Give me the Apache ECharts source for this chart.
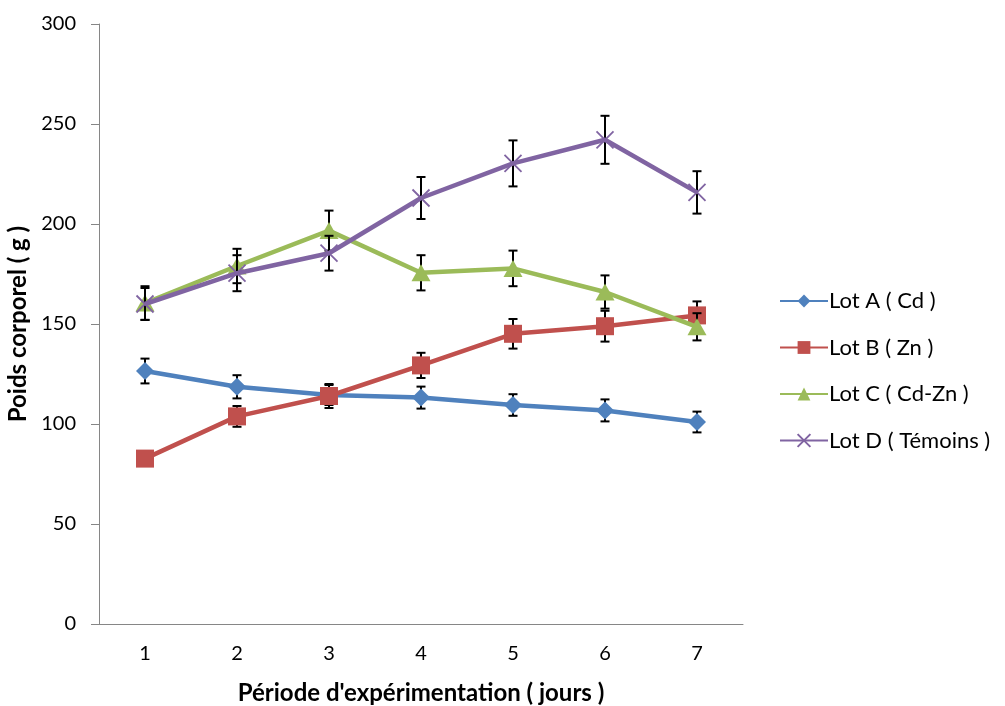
<!DOCTYPE html>
<html>
<head>
<meta charset="utf-8">
<script src="https://cdn.jsdelivr.net/npm/echarts@6/dist/echarts.min.js"></script>
<style>html,body{margin:0;padding:0;background:#fff}#c{width:1005px;height:706px}</style>
</head>
<body>
<div id="c"></div>
<script>
var categories = ['1','2','3','4','5','6','7'];
var seriesNames = ['Lot A ( Cd )','Lot B ( Zn )','Lot C ( Cd-Zn )','Lot D ( Témoins )'];
var lotA = [126.5, 118.6, 114.5, 113.2, 109.5, 106.8, 101];
var lotB = [82.7, 103.8, 114, 129.3, 145.1, 148.9, 154.3];
var lotC = [160.5, 179, 196.7, 175.6, 177.8, 166, 148.6];
var lotD = [160, 175.4, 185.4, 213, 230.3, 242.1, 215.8];
var errA = [6.2, 5.8, 5, 5.5, 5.4, 5.5, 5.2];
var errB = [3, 5.2, 6, 6.3, 7.4, 7.7, 7];
var errC = [8.4, 8.6, 10, 8.8, 8.9, 8.3, 6.8];
var errD = [8, 9, 8.7, 10.5, 11.5, 12, 10.6];
var yTicks = {min: 0, max: 300, interval: 50};

var colors = ['#4F81BD', '#C0504D', '#9BBB59', '#8064A2'];
var values = [lotA, lotB, lotC, lotD];
var errs = [errA, errB, errC, errD];
var symbols = ['diamond', 'rect', 'triangle', 'path://M0,0L10,10M10,0L0,10'];
var sizes = [[18,18], [18,18], [19,17], [17,17]];
var FONT = 'Lato, "Open Sans", sans-serif';

var series = [];
values.forEach(function (vals, i) {
  var s = {
    name: seriesNames[i], type: 'line', data: vals,
    symbol: symbols[i], symbolSize: sizes[i], showAllSymbol: true,
    lineStyle: {color: colors[i], width: 4.5},
    itemStyle: {color: colors[i], borderWidth: 0},
    z: 3 + 2 * i
  };
  if (i === 3) {
    s.itemStyle = {color: colors[i], borderColor: colors[i], borderWidth: 1.8};
  }
  series.push(s);
});
values.forEach(function (vals, i) {
  var data = vals.map(function (v, k) { return [k, v - errs[i][k], v + errs[i][k]]; });
  series.push({
    type: 'custom', name: seriesNames[i] + ' err', z: 2 + 2 * i,
    silent: true,
    renderItem: function (params, api) {
      var x = api.value(0);
      var lo = api.coord([x, api.value(1)]);
      var hi = api.coord([x, api.value(2)]);
      var w = 4.5;
      var st = {stroke: '#000', lineWidth: 2};
      return {type: 'group', children: [
        {type: 'line', shape: {x1: lo[0], y1: lo[1], x2: hi[0], y2: hi[1]}, style: st},
        {type: 'line', shape: {x1: lo[0]-w, y1: lo[1], x2: lo[0]+w, y2: lo[1]}, style: st},
        {type: 'line', shape: {x1: hi[0]-w, y1: hi[1], x2: hi[0]+w, y2: hi[1]}, style: st}
      ]};
    },
    encode: {x: 0, y: [1, 2]},
    data: data
  });
});

var chart = echarts.init(document.getElementById('c'), null, {renderer: 'canvas'});
chart.setOption({
  animation: false,
  backgroundColor: '#fff',
  grid: {left: 99, right: 262, top: 24, bottom: 82, containLabel: false, outerBoundsMode: 'none'},
  legend: {
    orient: 'vertical', left: 774, top: 285,
    data: seriesNames, itemWidth: 48, itemHeight: 16, itemGap: 24.5,
    textStyle: {fontFamily: FONT, fontSize: 22, color: '#000', padding: [0,0,0,-4]}
  },
  xAxis: {
    type: 'category', data: categories, boundaryGap: true,
    name: "Période d'expérimentation ( jours )", nameLocation: 'middle', nameGap: 57,
    nameTextStyle: {fontFamily: FONT, fontSize: 24, fontWeight: 'bold', color: '#000'},
    axisLine: {lineStyle: {color: '#868686', width: 1}},
    axisTick: {show: false},
    axisLabel: {fontFamily: FONT, fontSize: 20, color: '#000', margin: 20}
  },
  yAxis: {
    type: 'value', min: yTicks.min, max: yTicks.max, interval: yTicks.interval,
    name: 'Poids corporel ( g )', nameLocation: 'middle', nameGap: 67,
    nameTextStyle: {fontFamily: FONT, fontSize: 24, fontWeight: 'bold', color: '#000'},
    axisLine: {show: true, lineStyle: {color: '#868686', width: 1}},
    axisTick: {show: true, length: 8, lineStyle: {color: '#868686'}},
    splitLine: {show: false},
    axisLabel: {fontFamily: FONT, fontSize: 20, color: '#000', margin: 23}
  },
  series: series
});
</script>
</body>
</html>
